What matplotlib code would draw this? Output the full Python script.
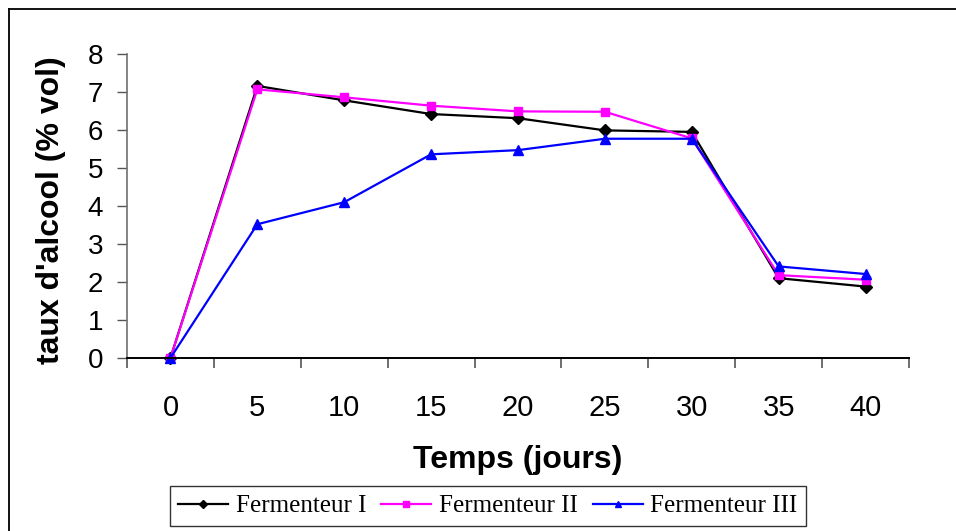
import matplotlib.pyplot as plt
from matplotlib.lines import Line2D

plt.rcParams["font.family"] = ["Liberation Sans", "DejaVu Sans"]

DAYS = ["0", "5", "10", "15", "20", "25", "30", "35", "40"]
FERM_1 = [0.0, 7.16, 6.78, 6.42, 6.31, 5.99, 5.95, 2.10, 1.88]
FERM_2 = [0.0, 7.07, 6.86, 6.64, 6.49, 6.48, 5.78, 2.18, 2.06]
FERM_3 = [0.0, 3.52, 4.10, 5.36, 5.47, 5.77, 5.77, 2.41, 2.21]

SERIES = [
    ("Fermenteur I", FERM_1, "black", "D", 6.0),
    ("Fermenteur II", FERM_2, "#FF00FF", "s", 5.5),
    ("Fermenteur III", FERM_3, "#0000FF", "^", 7.0),
]

W, H = 956, 531
fig = plt.figure(figsize=(W / 100, H / 100), dpi=100)
ax = fig.add_axes([127 / W, 1 - 358 / H, (909 - 127) / W, (358 - 54) / H])

xs = list(range(len(DAYS)))
for label, values, color, marker, ms in SERIES:
    ax.plot(xs, values, color=color, marker=marker, markersize=ms,
            linewidth=1.6, label=label, clip_on=False)

ax.set_xlim(-0.5, len(DAYS) - 0.5)
ax.set_ylim(0, 8)

# category boundaries carry the ticks, labels sit at the centres
ax.set_xticks([i - 0.5 for i in range(len(DAYS) + 1)])
ax.set_xticklabels([])
ax.set_xticks(xs, minor=True)
ax.set_xticklabels(DAYS, minor=True, fontsize=21)
ax.tick_params(axis="x", which="major", length=7.5, width=1.2, color="#555555", direction="out")
ax.tick_params(axis="x", which="minor", length=0, pad=26)
ax.set_yticks(range(9))
ax.tick_params(axis="y", length=7.2, width=1.0, color="#555555", direction="out", labelsize=20, pad=10)

for side in ("top", "right"):
    ax.spines[side].set_visible(False)
ax.spines["left"].set_color("#707070")
ax.spines["left"].set_linewidth(1.2)
ax.spines["bottom"].set_color("black")
ax.spines["bottom"].set_linewidth(1.4)

fig.text(51 / W, 1 - 210 / H, "taux d'alcool (% vol)", rotation=90,
         ha="center", va="center", fontsize=23, fontweight="bold")
fig.text(518 / W, 1 - 460 / H, "Temps (jours)",
         ha="center", va="center", fontsize=23, fontweight="bold")

handles, labels = ax.get_legend_handles_labels()
leg = fig.legend(handles, labels, loc="center", bbox_to_anchor=(488 / W, 1 - 506 / H),
                 ncol=3, frameon=True, fancybox=False, edgecolor="black",
                 prop={"family": "Liberation Serif", "size": 18},
                 handlelength=2.0, handletextpad=0.3, columnspacing=0.6,
                 borderpad=0.35, borderaxespad=0, markerscale=0.7)
leg.get_frame().set_linewidth(1.0)

# chart-area border, running off the right and bottom edges
fig.add_artist(Line2D([9 / W, 9 / W], [-0.05, 1 - 8.5 / H], color="black", linewidth=1.3))
fig.add_artist(Line2D([9 / W, 1.05], [1 - 8.5 / H, 1 - 8.5 / H], color="black", linewidth=1.3))

fig.savefig("out.png", dpi=100)
